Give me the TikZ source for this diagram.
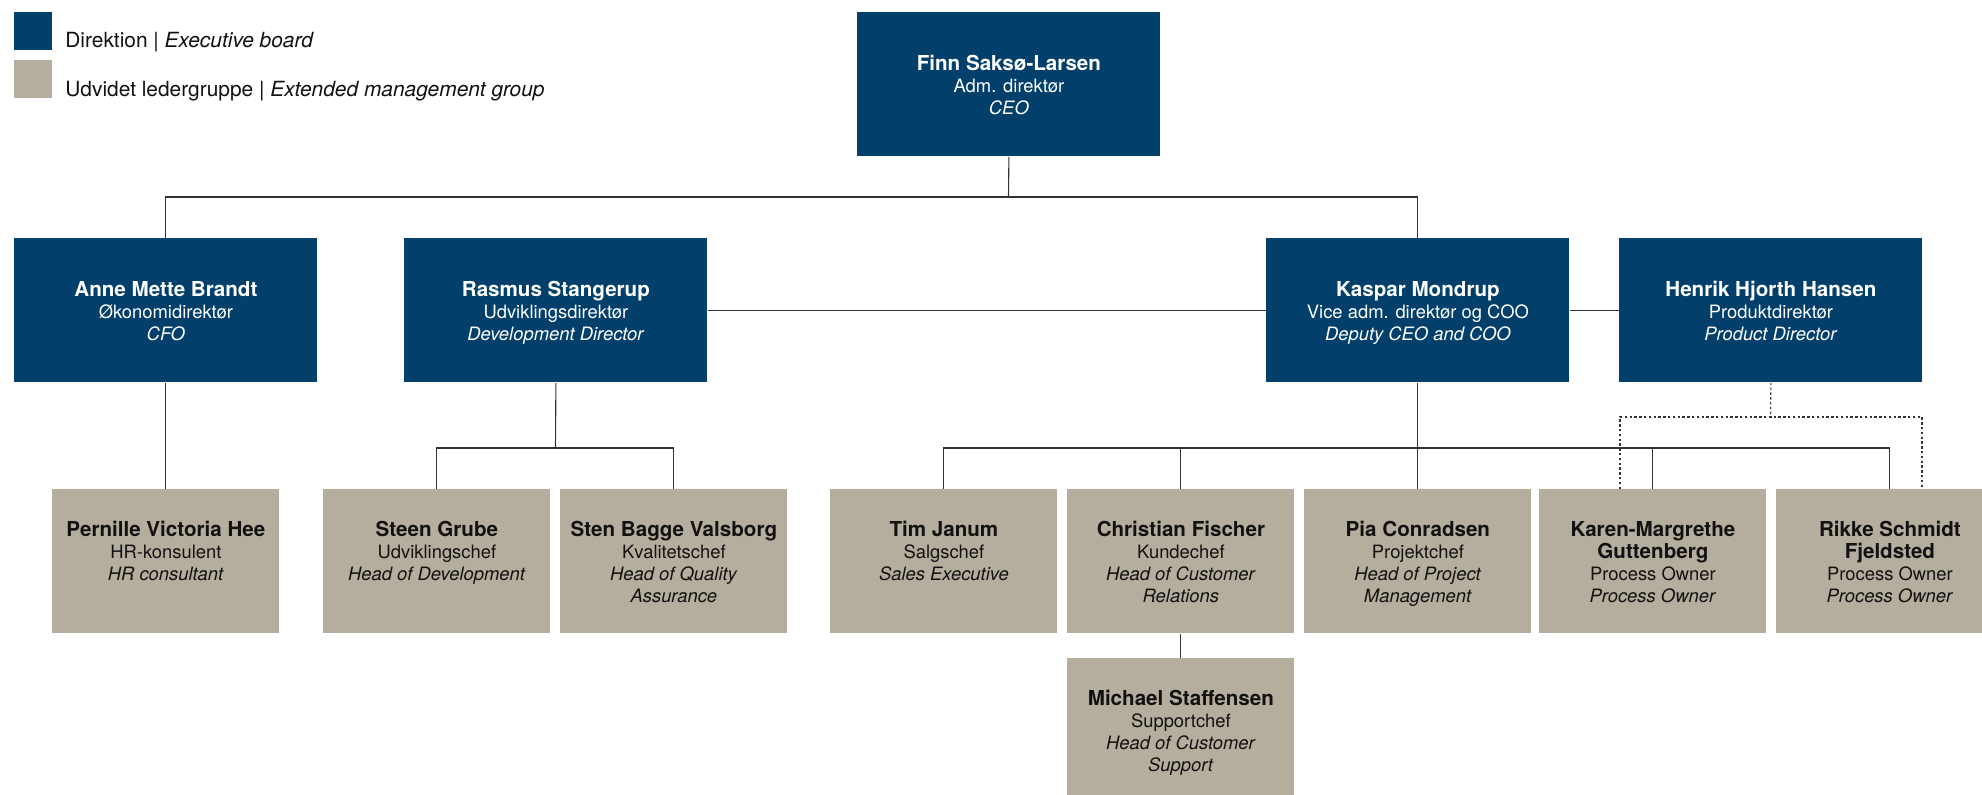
\documentclass[tikz,border=0pt]{standalone}
\usepackage{fontspec}
\setmainfont{TeX Gyre Heros}
\usetikzlibrary{calc}
\definecolor{navy}{RGB}{2,63,106}
\definecolor{tanbox}{RGB}{181,174,158}
\definecolor{linec}{RGB}{51,51,51}
\definecolor{ink}{RGB}{17,17,17}
\newcommand\nm[1]{{\fontsize{10.3}{11}\selectfont\bfseries\rule{0pt}{8pt}#1}}
\begin{document}
\begin{tikzpicture}[x=0.5pt,y=-0.5pt,
 exec/.style={fill=navy,draw=none,minimum width=151.5pt,minimum height=72pt,inner sep=0pt,anchor=north west},
 ext/.style={fill=tanbox,draw=none,minimum width=113.5pt,minimum height=72pt,inner sep=0pt,anchor=north west},
 wtxt/.style={text=white,anchor=north,inner sep=0pt,align=center,font=\fontsize{9.2}{11}\selectfont},
 btxt/.style={wtxt,text=ink},
 conn/.style={draw=linec,line width=0.55pt},
 dots/.style={draw=linec,line width=0.55pt,dash pattern=on 1.2pt off 1.2pt},
 legtxt/.style={anchor=base west,inner sep=0pt,text=ink,font=\fontsize{10.45}{12}\selectfont},
 legbox/.style={minimum width=19pt,minimum height=19pt,inner sep=0pt,anchor=north west,draw=none}
]
\useasboundingbox (0,0) rectangle (1982,795);
\clip (0,0) rectangle (1982,795);

% legend
\node[legbox,fill=navy] (lg1) at (14,12) {};
\node[legbox,fill=tanbox] (lg2) at (14,60) {};
\node[legtxt] (lt1) at (65,48) {Direktion \textbar{} \textit{Executive board}};
\node[legtxt] (lt2) at (65,97) {Udvidet ledergruppe \textbar{} \textit{Extended management group}};

% executive boxes
\node[exec] (ceo) at (857,12) {};
\node[exec] (anne) at (14,238) {};
\node[exec] (rasmus) at (404,238) {};
\node[exec] (kaspar) at (1266,238) {};
\node[exec] (henrik) at (1619,238) {};

% extended boxes
\node[ext] (pernille) at (52,489) {};
\node[ext] (steen) at (323,489) {};
\node[ext] (sten) at (560,489) {};
\node[ext] (tim) at (830,489) {};
\node[ext] (christian) at (1067,489) {};
\node[ext] (pia) at (1304,489) {};
\node[ext] (karen) at (1539,489) {};
\node[ext] (rikke) at (1776,489) {};
\node[ext] (michael) at (1067,658) {};

% texts
\node[wtxt] (ceo-t) at ($(ceo.north)+(0,42)$) {\nm{Finn Saksø-Larsen}\\Adm. direktør\\\textit{CEO}};
\node[wtxt] (anne-t) at ($(anne.north)+(0,42)$) {\nm{Anne Mette Brandt}\\Økonomidirektør\\\textit{CFO}};
\node[wtxt] (rasmus-t) at ($(rasmus.north)+(0,42)$) {\nm{Rasmus Stangerup}\\Udviklingsdirektør\\\textit{Development Director}};
\node[wtxt] (kaspar-t) at ($(kaspar.north)+(0,42)$) {\nm{Kaspar Mondrup}\\Vice adm. direktør og COO\\\textit{Deputy CEO and COO}};
\node[wtxt] (henrik-t) at ($(henrik.north)+(0,42)$) {\nm{Henrik Hjorth Hansen}\\Produktdirektør\\\textit{Product Director}};

\node[btxt] (pernille-t) at ($(pernille.north)+(0,31)$) {\nm{Pernille Victoria Hee}\\HR-konsulent\\\textit{HR consultant}};
\node[btxt] (steen-t) at ($(steen.north)+(0,31)$) {\nm{Steen Grube}\\Udviklingschef\\\textit{Head of Development}};
\node[btxt] (sten-t) at ($(sten.north)+(0,31)$) {\nm{Sten Bagge Valsborg}\\Kvalitetschef\\\textit{Head of Quality}\\\textit{Assurance}};
\node[btxt] (tim-t) at ($(tim.north)+(0,31)$) {\nm{Tim Janum}\\Salgschef\\\textit{Sales Executive}};
\node[btxt] (christian-t) at ($(christian.north)+(0,31)$) {\nm{Christian Fischer}\\Kundechef\\\textit{Head of Customer}\\\textit{Relations}};
\node[btxt] (pia-t) at ($(pia.north)+(0,31)$) {\nm{Pia Conradsen}\\Projektchef\\\textit{Head of Project}\\\textit{Management}};
\node[btxt] (karen-t) at ($(karen.north)+(0,31)$) {\nm{Karen-Margrethe}\\\nm{Guttenberg}\\Process Owner\\\textit{Process Owner}};
\node[btxt] (rikke-t) at ($(rikke.north)+(0,31)$) {\nm{Rikke Schmidt}\\\nm{Fjeldsted}\\Process Owner\\\textit{Process Owner}};
\node[btxt] (michael-t) at ($(michael.north)+(0,31)$) {\nm{Michael Staffensen}\\Supportchef\\\textit{Head of Customer}\\\textit{Support}};

% connectors
\coordinate (h1) at (1008.5,197);
\draw[conn] (ceo.south) -- (h1);
\draw[conn] (anne.north) |- (h1) -| (kaspar.north);
\draw[conn] (anne.south) -- (pernille.north);

\coordinate (r2) at (555.5,448);
\draw[conn] (rasmus.south) -- (r2);
\draw[conn] (steen.north) |- (r2) -| (sten.north);
\draw[conn] (rasmus.east) -- (kaspar.west);
\draw[conn] (kaspar.east) -- (henrik.west);

\coordinate (k2) at (1417.5,448);
\draw[conn] (kaspar.south) -- (pia.north);
\draw[conn] (tim.north) |- (k2) -| (rikke.north);
\draw[conn] (christian.north) -- (christian.north |- k2);
\draw[conn] (karen.north) -- (karen.north |- k2);
\draw[conn] (christian.south) -- (michael.north);

\coordinate (d1) at (1770.5,417);
\draw[dots] (henrik.south) -- (d1);
\draw[dots] ($(karen.north west)+(81,0)$) |- (d1) -| ($(rikke.north west)+(146,0)$);
\end{tikzpicture}
\end{document}
